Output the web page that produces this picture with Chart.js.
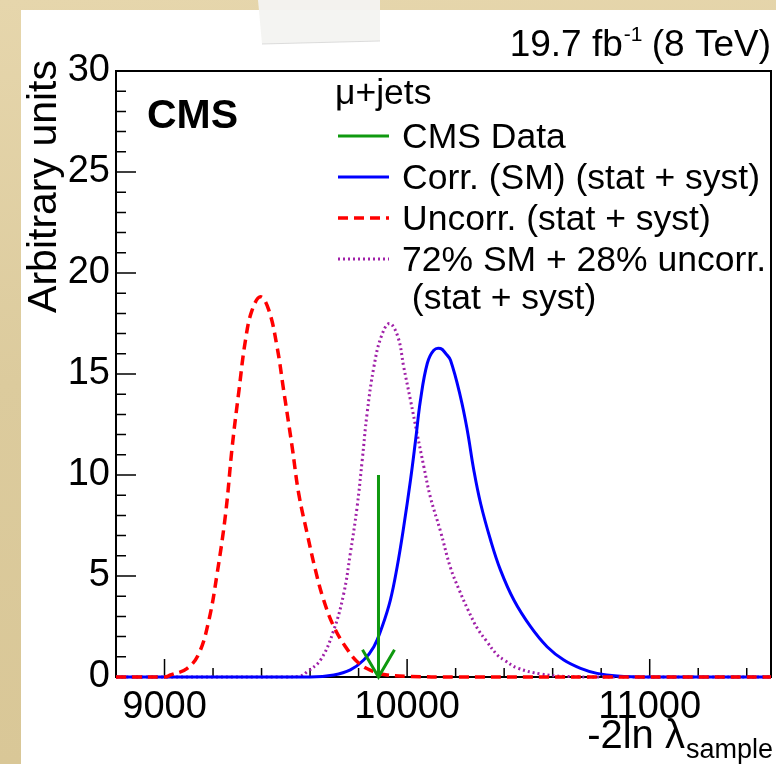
<!DOCTYPE html>
<html>
<head>
<meta charset="utf-8">
<script src="https://cdn.jsdelivr.net/npm/chart.js@4.4.1/dist/chart.umd.min.js"></script>
<style>
html,body{margin:0;padding:0;background:#fff;}
#wrap{width:776px;height:764px;position:relative;}
</style>
</head>
<body>
<div id="wrap"><canvas id="c" width="776" height="764"></canvas></div>
<script>
// ---- Data ----
const xUncorr = [8800, 9000, 9025, 9094, 9142, 9183, 9217, 9252, 9279, 9307, 9334, 9361, 9396, 9430, 9464, 9491, 9526, 9553, 9588, 9622, 9656, 9698, 9746, 9801, 9863, 9918, 10000, 10200, 11500];
const yUncorr = [0, 0, 0.1, 0.43, 1.17, 2.82, 5.13, 8.1, 11.4, 14.2, 16.7, 18.16, 18.82, 18.16, 16.34, 14.2, 11.4, 9.09, 7.1, 5.3, 3.81, 2.49, 1.5, 0.68, 0.26, 0.1, 0.03, 0, 0];

const xCorr = [8800, 9600, 9698, 9766, 9821, 9863, 9897, 9931, 9959, 9986, 10014, 10035, 10055, 10083, 10110, 10138, 10160, 10179, 10220, 10248, 10275, 10303, 10344, 10385, 10440, 10509, 10577, 10646, 10715, 10783, 10866, 11000, 11500];
const yCorr = [0, 0, 0.1, 0.35, 0.84, 1.5, 2.49, 3.81, 5.46, 7.44, 9.75, 11.73, 13.7, 15.52, 16.18, 16.26, 16.0, 15.68, 13.87, 12.22, 10.24, 8.59, 6.78, 5.29, 3.81, 2.49, 1.5, 0.84, 0.43, 0.18, 0.05, 0, 0];

const xMix = [8800, 9500, 9560, 9588, 9643, 9698, 9739, 9766, 9794, 9815, 9835, 9863, 9893, 9927, 9962, 9986, 10014, 10041, 10069, 10096, 10138, 10179, 10215, 10252, 10290, 10326, 10371, 10400, 10454, 10550, 10646, 10800, 11500];
const yMix = [0, 0, 0.05, 0.26, 0.84, 2.33, 4.14, 6.12, 8.43, 10.74, 13.05, 15.35, 16.84, 17.5, 16.84, 15.35, 13.7, 12.06, 10.41, 8.9, 7.2, 5.4, 4.3, 3.3, 2.4, 1.8, 1.1, 0.84, 0.45, 0.15, 0.03, 0, 0];

// CMS data: observed value marked by an arrow
const xData = [9882, 9882];
const yData = [10, 0];
const xArrowHead = [9816, 9882, 9948];
const yArrowHead = [1.35, 0, 1.35];

const xMajorTicks = [9000, 10000, 11000];
const xMinorTicks = [8800, 9200, 9400, 9600, 9800, 10200, 10400, 10600, 10800, 11200, 11400];
const yMajorTicks = [0, 5, 10, 15, 20, 25, 30];
const yMinorTicks = [1,2,3,4,6,7,8,9,11,12,13,14,16,17,18,19,21,22,23,24,26,27,28,29];

const legendHeader = "\u03BC+jets";
const legendLabels = ["CMS Data", "Corr. (SM) (stat + syst)", "Uncorr. (stat + syst)", ["72% SM + 28% uncorr.", " (stat + syst)"]];
const lumiMain = "19.7 fb", lumiSup = "-1", lumiTail = " (8 TeV)";
const yTitle = "Arbitrary units";
const xTitleMain = "-2ln \u03BB", xTitleSub = "sample";

const FONT = '"Liberation Sans", Arial, Helvetica, sans-serif';
const pts = (xs, ys) => xs.map((x, i) => ({x: x, y: ys[i]}));

const bgPlugin = {
  id: 'bg',
  beforeDraw(chart) {
    const ctx = chart.ctx, W = chart.width, H = chart.height;
    ctx.save();
    const g = ctx.createLinearGradient(0, 0, 40, H);
    g.addColorStop(0, '#e6d6ac');
    g.addColorStop(0.5, '#dccb9d');
    g.addColorStop(1, '#d9c797');
    ctx.fillStyle = g;
    ctx.fillRect(0, 0, W, H);
    ctx.fillStyle = '#ffffff';
    ctx.fillRect(21, 10, W - 21, H - 10);
    // tape
    ctx.fillStyle = 'rgba(243,243,241,0.95)';
    ctx.beginPath();
    ctx.moveTo(258, 0); ctx.lineTo(380, 0); ctx.lineTo(380, 41); ctx.lineTo(262, 44); ctx.closePath();
    ctx.fill();
    ctx.strokeStyle = 'rgba(200,200,200,0.6)';
    ctx.lineWidth = 1;
    ctx.beginPath(); ctx.moveTo(262, 44); ctx.lineTo(380, 41); ctx.stroke();
    ctx.restore();
  }
};

const framePlugin = {
  id: 'frame',
  beforeDatasetsDraw(chart) {
    const ctx = chart.ctx, a = chart.chartArea;
    const xs = chart.scales.x, ys = chart.scales.y;
    ctx.save();
    ctx.strokeStyle = '#000'; ctx.lineWidth = 2;
    ctx.strokeRect(a.left, a.top, a.right - a.left, a.bottom - a.top);
    ctx.lineWidth = 1.5;
    ctx.beginPath();
    xMajorTicks.forEach(v => { const p = xs.getPixelForValue(v); ctx.moveTo(p, a.bottom); ctx.lineTo(p, a.bottom - 18); });
    xMinorTicks.forEach(v => { const p = xs.getPixelForValue(v); ctx.moveTo(p, a.bottom); ctx.lineTo(p, a.bottom - 9); });
    yMajorTicks.forEach(v => { const p = ys.getPixelForValue(v); ctx.moveTo(a.left, p); ctx.lineTo(a.left + 20, p); });
    yMinorTicks.forEach(v => { const p = ys.getPixelForValue(v); ctx.moveTo(a.left, p); ctx.lineTo(a.left + 10, p); });
    ctx.stroke();
    ctx.restore();
  }
};

const textPlugin = {
  id: 'texts',
  afterDatasetsDraw(chart) {
    const ctx = chart.ctx;
    ctx.save();
    ctx.fillStyle = '#000';
    ctx.textBaseline = 'alphabetic';
    // CMS
    ctx.font = 'bold 41px ' + FONT;
    ctx.textAlign = 'left';
    ctx.fillText('CMS', 147, 128);
    // lumi
    ctx.font = '37px ' + FONT;
    const w1 = ctx.measureText(lumiMain).width;
    const w3 = ctx.measureText(lumiTail).width;
    ctx.font = '21px ' + FONT;
    const w2 = ctx.measureText(lumiSup).width;
    let lx = 771 - (w1 + w2 + w3);
    ctx.font = '37px ' + FONT;
    ctx.fillText(lumiMain, lx, 56);
    ctx.font = '21px ' + FONT;
    ctx.fillText(lumiSup, lx + w1 + 1, 41);
    ctx.font = '37px ' + FONT;
    ctx.fillText(lumiTail, lx + w1 + w2, 56);
    // y title
    ctx.save();
    ctx.translate(56, 60);
    ctx.rotate(-Math.PI / 2);
    ctx.font = '41px ' + FONT;
    ctx.textAlign = 'right';
    ctx.fillText(yTitle, 0, 0);
    ctx.restore();
    // x title
    ctx.font = '40px ' + FONT;
    const t1 = ctx.measureText(xTitleMain).width;
    ctx.font = '27px ' + FONT;
    const t2 = ctx.measureText(xTitleSub).width;
    const tx = 772 - t1 - t2;
    ctx.font = '40px ' + FONT;
    ctx.textAlign = 'left';
    ctx.fillText(xTitleMain, tx, 748);
    ctx.font = '27px ' + FONT;
    ctx.fillText(xTitleSub, tx + t1 + 1, 758);

    // legend
    const ds = chart.data.datasets;
    const lx0 = 338, lx1 = 389, tx0 = 402;
    ctx.font = '35.5px ' + FONT;
    ctx.fillText(legendHeader, 335, 104);
    const rows = [148, 189, 230, 271];
    [0, 1, 2, 3].forEach((di, r) => {
      const d = ds[di];
      const by = rows[r];
      ctx.save();
      ctx.strokeStyle = d.borderColor;
      ctx.lineWidth = d.borderWidth;
      ctx.setLineDash(d.borderDash || []);
      ctx.beginPath();
      ctx.moveTo(lx0, by - 12); ctx.lineTo(lx1, by - 12);
      ctx.stroke();
      ctx.restore();
      const lab = legendLabels[r];
      if (Array.isArray(lab)) {
        ctx.fillText(lab[0], tx0, by);
        ctx.fillText(lab[1], tx0, by + 38);
      } else {
        ctx.fillText(lab, tx0, by);
      }
    });
    ctx.restore();
  }
};

new Chart(document.getElementById('c'), {
  type: 'scatter',
  data: {
    datasets: [
      { label: 'CMS Data', data: pts(xData, yData), showLine: true, borderColor: '#0f990f', borderWidth: 3, pointRadius: 0, tension: 0, order: 0, clip: 4 },
      { label: 'Corr. (SM) (stat + syst)', data: pts(xCorr, yCorr), showLine: true, borderColor: '#0000ff', borderWidth: 3, pointRadius: 0, tension: 0.4, order: 3, clip: 4 },
      { label: 'Uncorr. (stat + syst)', data: pts(xUncorr, yUncorr), showLine: true, borderColor: '#ff0000', borderWidth: 3.5, borderDash: [10, 6], pointRadius: 0, tension: 0.4, order: 2, clip: 4 },
      { label: '72% SM + 28% uncorr. (stat + syst)', data: pts(xMix, yMix), showLine: true, borderColor: '#a020a8', borderWidth: 3, borderDash: [2, 3], pointRadius: 0, tension: 0.4, order: 4, clip: 4 },
      { label: 'arrowhead', data: pts(xArrowHead, yArrowHead), showLine: true, borderColor: '#0f990f', borderWidth: 3, pointRadius: 0, tension: 0, order: 1, clip: 4 }
    ]
  },
  options: {
    responsive: false,
    animation: false,
    events: [],
    layout: { padding: { top: 71, right: 5, left: 0, bottom: 0 } },
    plugins: { legend: { display: false }, tooltip: { enabled: false }, title: { display: false } },
    scales: {
      x: {
        type: 'linear', min: 8800, max: 11500,
        afterBuildTicks: (s) => { s.ticks = xMajorTicks.map(v => ({ value: v })); },
        afterFit: (s) => { s.height = 87; },
        grid: { display: false, drawTicks: false },
        border: { display: false },
        ticks: { color: '#000', font: { family: FONT, size: 38 }, padding: 8, maxRotation: 0, autoSkip: false, callback: (v) => String(v) }
      },
      y: {
        type: 'linear', min: 0, max: 30,
        afterBuildTicks: (s) => { s.ticks = yMajorTicks.map(v => ({ value: v })); },
        afterFit: (s) => { s.width = 116; },
        grid: { display: false, drawTicks: false },
        border: { display: false },
        ticks: { color: '#000', font: { family: FONT, size: 38 }, padding: 6, callback: (v) => String(v) }
      }
    }
  },
  plugins: [bgPlugin, framePlugin, textPlugin]
});
</script>
</body>
</html>
